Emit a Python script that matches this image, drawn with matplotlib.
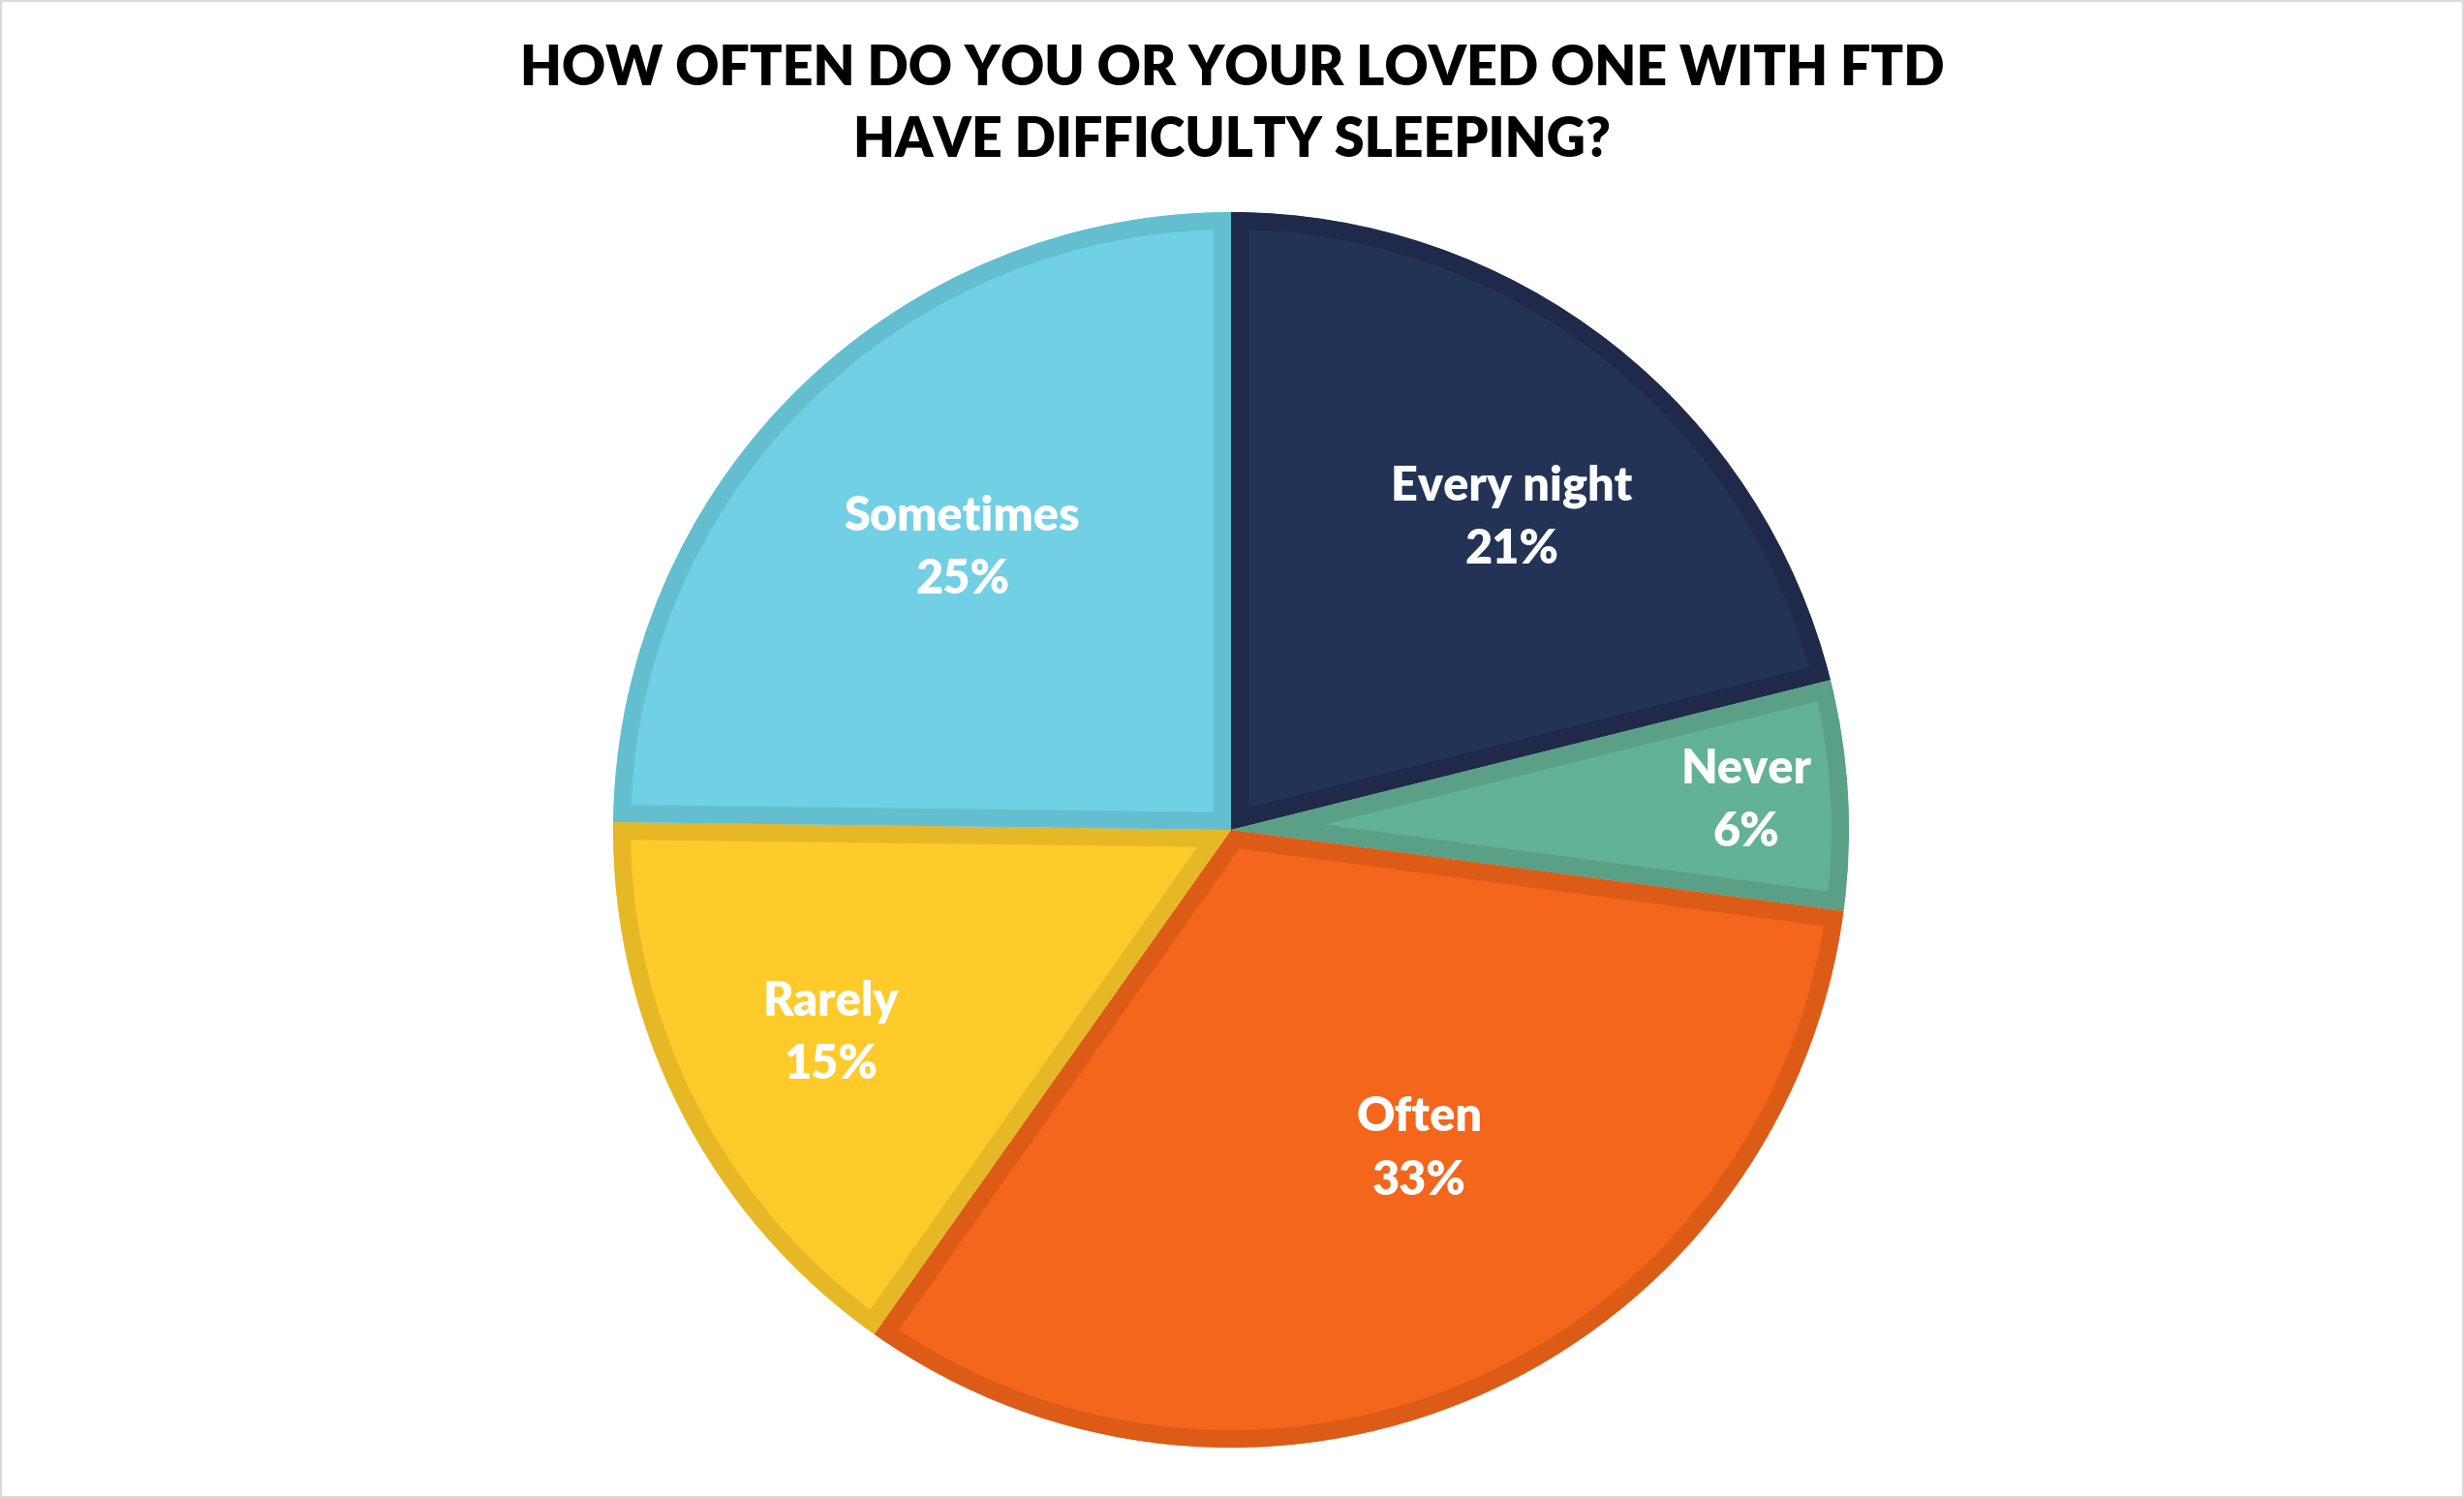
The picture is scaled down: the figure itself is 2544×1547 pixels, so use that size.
import numpy as np
import matplotlib.pyplot as plt
from matplotlib.patches import Rectangle

# --- data ---
categories = ["Every night", "Never", "Often", "Rarely", "Sometimes"]
shares = [21.1, 6.0, 32.7, 15.4, 24.8]
fill_colors = ["#223356", "#62B295", "#F3661B", "#FECB2A", "#71D0E3"]
edge_colors = ["#1F2A4B", "#5AA086", "#DC5B16", "#E6B826", "#63BFD0"]

TITLE = "HOW OFTEN DO YOU OR YOUR LOVED ONE WITH FTD\nHAVE DIFFICULTY SLEEPING?"

# label placement (fraction of radius, angle nudge in degrees)
label_r = [0.68, 0.835, 0.60, 0.726, 0.63]
label_nudge = [-4, 0, 7, 0, -1]

W, H, DPI = 2544, 1547, 100
fig = plt.figure(figsize=(W / DPI, H / DPI), dpi=DPI)
fig.patch.set_facecolor("white")

# pie geometry in pixels
cx, cy, R = 1271, 857, 638
ax = fig.add_axes([(cx - R) / W, (H - cy - R) / H, 2 * R / W, 2 * R / H])

wedges, _ = ax.pie(shares, colors=fill_colors, startangle=90, counterclock=False,
                   radius=1.0, wedgeprops=dict(linewidth=26))
ax.set_xlim(-1, 1)
ax.set_ylim(-1, 1)
ax.set_aspect("equal")
ax.axis("off")

for w, ec in zip(wedges, edge_colors):
    w.set_edgecolor(ec)
    w.set_joinstyle("miter")
    w.set_clip_on(True)
    w.set_clip_path(w)  # keep the stroke inside each slice

for w, name, val, r, nd in zip(wedges, categories, shares, label_r, label_nudge):
    mid = np.deg2rad((w.theta1 + w.theta2) / 2 + nd)
    ax.text(r * np.cos(mid), r * np.sin(mid), f"{name}\n{val:.0f}%",
            ha="center", va="center", color="white", fontsize=35,
            fontweight="heavy", family="Lato", linespacing=1.55)

fig.text(0.5, 1 - 108 / H, TITLE, ha="center", va="center", fontsize=40,
         fontweight="heavy", family="Lato", color="black", linespacing=1.5)

fig.patches.append(Rectangle((0, 0), 1, 1, transform=fig.transFigure, fill=False,
                             edgecolor="#D9D9D9", linewidth=3))

fig.savefig("out.png", dpi=DPI)
